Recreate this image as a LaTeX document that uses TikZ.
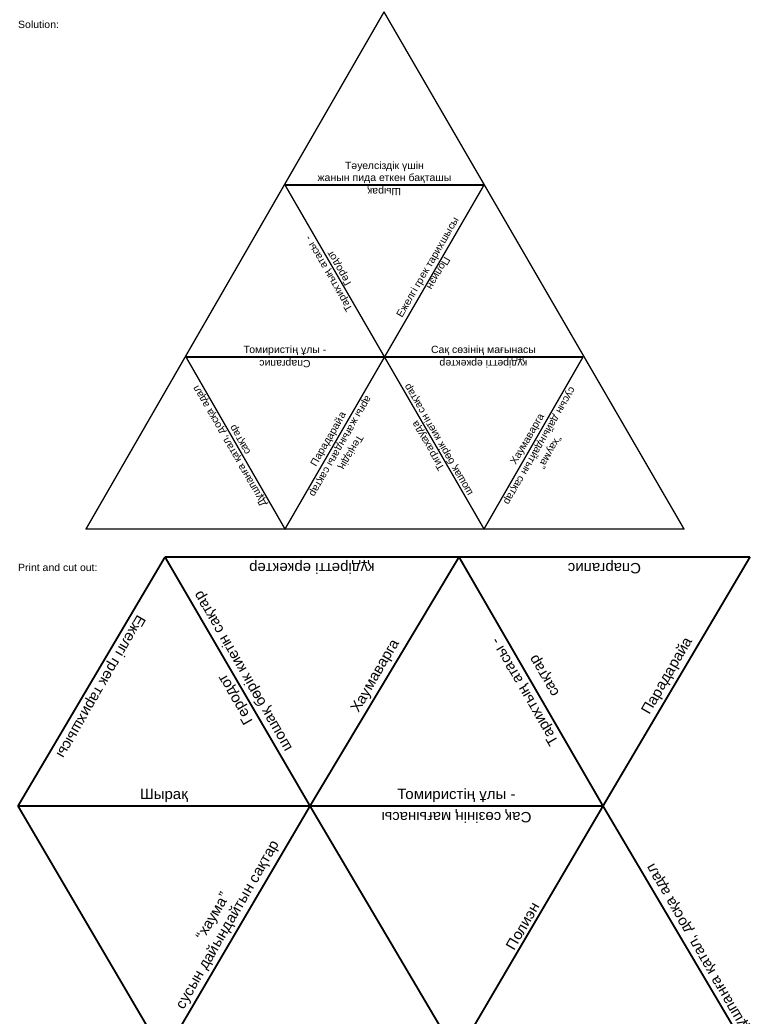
\documentclass[tikz,border=0pt]{standalone}
\usepackage{fontspec}
\setmainfont{Liberation Sans}
\usetikzlibrary{calc}
\begin{document}
\begin{tikzpicture}[x=1pt,y=-1pt,
  edge/.style={line width=1.3pt,line join=round},
  bedge/.style={line width=1.8pt,line join=round},
  sm/.style={font=\fontsize{10.5}{12}\selectfont,inner sep=1.5pt,align=center},
  bg/.style={font=\fontsize{15}{17}\selectfont,inner sep=3pt,align=center},
  hd/.style={font=\fontsize{10.5}{12}\selectfont,anchor=west,inner sep=0pt}]
\useasboundingbox (0,0) rectangle (768,1024);
\clip (0,0) rectangle (768,1024);
\node[hd] (sol) at (18,25) {Solution:};
\node[hd] (pr) at (18,568) {Print and cut out:};
% top triangle
\coordinate (A) at (384,12);
\coordinate (L1) at (285,185); \coordinate (R1) at (484,185);
\coordinate (L2) at (186,357); \coordinate (C2) at (384,357); \coordinate (R2) at (583,357);
\coordinate (B0) at (86,529); \coordinate (B1) at (285,529); \coordinate (B2) at (484,529); \coordinate (B3) at (684,529);
\draw[edge] (A) -- (B0) -- (B3) -- cycle;
\draw[edge] (L1) -- (R1) (L2) -- (R2);
\draw[edge] (L1) -- (B2) (R1) -- (B1);
\draw[edge] (L2) -- (B1) (R2) -- (B2);
% labels top
\node[sm,anchor=south] (t1) at ($(L1)!0.5!(R1)$) {Тәуелсіздік үшін\\жанын пида еткен бақташы};
\node[sm,anchor=south,rotate=180] (t2) at ($(L1)!0.5!(R1)$) {Шырақ};
\node[sm,rotate=120] (t3) at ($(L1)!0.5!(C2)$) {Тарихтың атасы -\\Геродот};
\node[sm,anchor=south,rotate=60] (t4) at ($(R1)!0.5!(C2)$) {Ежелгі грек тарихшысы};
\node[sm,anchor=south,rotate=240] (t5) at ($(R1)!0.5!(C2)$) {Полиэн};
\node[sm,anchor=south] (t6) at ($(L2)!0.5!(C2)$) {Томиристің ұлы -};
\node[sm,anchor=south,rotate=180] (t7) at ($(L2)!0.5!(C2)$) {Спаргапис};
\node[sm,anchor=south] (t8) at ($(R2)!0.5!(C2)$) {Сақ сөзінің мағынасы};
\node[sm,anchor=south,rotate=180] (t9) at ($(R2)!0.5!(C2)$) {құдіретті еркектер};
\node[sm,rotate=120] (t10) at ($(L2)!0.5!(B1)$) {Дұшпанға қатал, досқа адал\\сақтар};
\node[sm,anchor=south,rotate=60] (t11) at ($(C2)!0.5!(B1)$) {Парадарайа};
\node[sm,anchor=south,rotate=240] (t12) at ($(C2)!0.5!(B1)$) {Теңіздің\\арғы жағындағы сақтар};
\node[sm,rotate=120] (t13) at ($(C2)!0.5!(B2)$) {Тиграхауда\\шошақ бөрік киетін сақтар};
\node[sm,anchor=south,rotate=60] (t14) at ($(R2)!0.5!(B2)$) {Хаумаварга};
\node[sm,anchor=south,rotate=240] (t15) at ($(R2)!0.5!(B2)$) {“хаума”\\сусын дайындайтын сақтар};
% print section
\coordinate (T1) at (165,557); \coordinate (T2) at (459,557); \coordinate (T3) at (750,557);
\coordinate (M0) at (18,806); \coordinate (M1) at (310,806); \coordinate (M2) at (603,806);
\coordinate (D1) at (164,1055); \coordinate (D2) at (457,1055); \coordinate (D3) at (750,1055);
\draw[bedge] (T1) -- (T3) (M0) -- (M2);
\draw[bedge] (T1) -- (M0) (T1) -- (M1) (T2) -- (M1) (T2) -- (M2) (T3) -- (M2);
\draw[bedge] (M0) -- (D1) -- (M1) -- (D2) -- (M2) -- (D3);
\node[bg,anchor=south,rotate=180] (p1) at ($(T1)!0.5!(T2)$) {құдіретті еркектер};
\node[bg,anchor=south,rotate=180] (p2) at ($(T2)!0.5!(T3)$) {Спаргапис};
\node[bg,anchor=south] (p3) at ($(M0)!0.5!(M1)$) {Шырақ};
\node[bg,anchor=south] (p4) at ($(M1)!0.5!(M2)$) {Томиристің ұлы -};
\node[bg,anchor=south,rotate=180] (p5) at ($(M1)!0.5!(M2)$) {Сақ сөзінің мағынасы};
\node[bg,anchor=south,rotate=240] (p6) at ($(T1)!0.5!(M0)$) {Ежелгі грек тарихшысы};
\node[bg,anchor=south,rotate=120] (p7) at ($(T1)!0.55!(M1)$) {Геродот};
\node[bg,anchor=north,rotate=120] (p8) at ($(T1)!0.48!(M1)$) {шошақ бөрік киетін сақтар};
\node[bg,anchor=south,rotate=60] (p9) at ($(T2)!0.5!(M1)$) {Хаумаварга};
\node[bg,anchor=south,rotate=120] (p10) at ($(T2)!0.52!(M2)$) {Тарихтың атасы -};
\node[bg,rotate=120] (p11) at (546,675) {сақтар};
\node[bg,anchor=south,rotate=60] (p12) at ($(T3)!0.5!(M2)$) {Парадарайа};
\node[bg,anchor=south,rotate=60] (p13) at ($(M1)!0.5!(D1)$) {“хаума”\\сусын дайындайтын сақтар};
\node[bg,anchor=south,rotate=60] (p14) at ($(M2)!0.5!(D2)$) {Полиэн};
\node[bg,anchor=north,rotate=120] (p15) at ($(M2)!0.6!(D3)$) {Дұшпанға қатал, досқа адал};
\end{tikzpicture}
\end{document}
